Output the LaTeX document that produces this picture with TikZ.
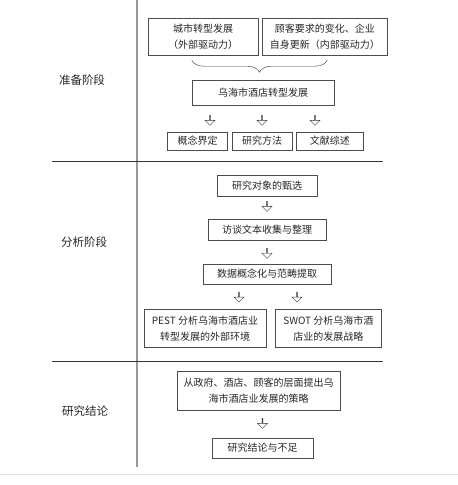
\documentclass[tikz,border=0pt]{standalone}
\usepackage{fontspec}
\setmainfont{Noto Sans CJK SC}
\usepackage{tikz}
\usetikzlibrary{positioning, shapes.arrows, decorations.pathreplacing}

\begin{document}
\begin{tikzpicture}[
    x=1pt, y=1pt,
    node distance=6pt,
    stepnode/.style={draw=black!70, text=black!85, align=center, inner sep=2pt, font=\fontsize{10}{15.5}\selectfont},
    stage/.style={text=black!85, font=\fontsize{11.5}{14}\selectfont},
    hollow/.style={single arrow, draw=black!80, fill=white, shape border rotate=270, minimum height=10pt, minimum width=10pt, single arrow head extend=2.5pt, inner sep=0pt},
    divider/.style={black!80, line width=0.7pt}
]
\useasboundingbox (0,0) rectangle (458,-485);

% Stage frame
\coordinate (vtop) at (137,0);
\coordinate (vbot) at (137,-467);
\draw[gray!80, line width=1.2pt] (vtop) -- (vbot);
\draw[divider] (52,-161) -- (383,-161);
\draw[divider] (52,-361) -- (383,-361);
\draw[gray!25, line width=1pt] (0,-474) -- (458,-474);

% Stage labels
\node[stage] (prep) at (82,-80) {准备阶段};
\node[stage] (anal) at (84,-242) {分析阶段};
\node[stage] (concl) at (85,-411) {研究结论};

% Preparation stage
\node[stepnode, minimum width=110pt, minimum height=37pt] (drive1) at (203,-36.5) {城市转型发展\\（外部驱动力）};
\node[stepnode, minimum width=125pt, minimum height=37pt, right=4pt of drive1] (drive2) {顾客要求的变化、企业\\自身更新（内部驱动力）};
\node[stepnode, minimum width=142pt, minimum height=25pt] (hotel) at (263,-92.5) {乌海市酒店转型发展};

\coordinate (bl) at ([yshift=-5pt]drive1.south -| hotel.west);
\coordinate (br) at ([xshift=-7pt]hotel.east |- bl);
\draw[decorate, decoration={brace, mirror, amplitude=12pt}, black!80] (bl) -- (br);

\node[hollow, below=10pt of hotel, xshift=-53pt] (h1) {};
\node[hollow, below=10pt of hotel, xshift=-1pt] (h2) {};
\node[hollow, below=10pt of hotel, xshift=52pt] (h3) {};

\node[stepnode, minimum width=60pt, minimum height=18pt, below=6pt of h2] (method) {研究方法};
\node[stepnode, minimum width=60pt, minimum height=18pt, left=4pt of method] (concept) {概念界定};
\node[stepnode, minimum width=67pt, minimum height=18pt, right=4pt of method] (review) {文献综述};

% Analysis stage
\node[stepnode, minimum width=100pt, minimum height=21pt] (object) at (267,-185.5) {研究对象的甄选};
\node[hollow, below=5pt of object] (h4) {};
\node[stepnode, minimum width=118pt, minimum height=21pt, below=7pt of h4] (interview) {访谈文本收集与整理};
\node[hollow, below=8pt of interview] (h5) {};
\node[stepnode, minimum width=128pt, minimum height=20pt, below=5pt of h5] (coding) {数据概念化与范畴提取};
\node[hollow, below=8pt of coding, xshift=-28pt] (h6) {};
\node[hollow, below=8pt of coding, xshift=30pt] (h7) {};

\node[stepnode, minimum width=122pt, minimum height=38pt, below=7pt of h6, xshift=-34pt] (pest) {PEST 分析乌海市酒店业\\转型发展的外部环境};
\node[stepnode, minimum width=106pt, minimum height=38pt, right=9pt of pest] (swot) {SWOT 分析乌海市酒\\店业的发展战略};

% Conclusion stage
\node[stepnode, minimum width=163pt, minimum height=39pt] (strategy) at (258.5,-390.5) {从政府、酒店、顾客的层面提出乌\\海市酒店业发展的策略};
\node[hollow, below=8pt of strategy, xshift=4pt] (h8) {};
\node[stepnode, minimum width=101pt, minimum height=20pt, below=9pt of h8] (summary) {研究结论与不足};

\end{tikzpicture}
\end{document}
